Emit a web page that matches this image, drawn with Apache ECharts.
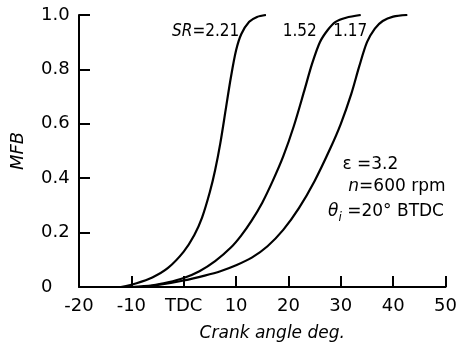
<!DOCTYPE html>
<html>
<head>
<meta charset="utf-8">
<script src="https://cdn.jsdelivr.net/npm/echarts@6/dist/echarts.min.js"></script>
<style>
    html, body { margin: 0; padding: 0; background: #fff; }
    #chart { width: 460px; height: 348px; }
</style>
</head>
<body>
<div id="chart"></div>
<script>
// mass fraction burned vs crank angle, one curve per swirl ratio
var sr221 = [[-12, 0], [-9, 0.014], [-6, 0.035], [-3, 0.07], [0, 0.13], [2, 0.19], [3.5, 0.255],
    [5, 0.35], [6, 0.43], [7, 0.53], [8, 0.65], [9, 0.77], [10, 0.87], [11, 0.93],
    [12.5, 0.975], [14, 0.993], [15.7, 1.0]];
var sr152 = [[-10, 0], [-6, 0.006], [-3, 0.017], [0, 0.033], [3, 0.058], [6, 0.095], [9, 0.145],
    [11, 0.19], [13, 0.245], [15, 0.31], [17, 0.39], [19, 0.48], [21, 0.59], [23, 0.72],
    [24.5, 0.82], [26, 0.9], [27.5, 0.945], [29, 0.975], [31, 0.99], [33.8, 1.0]];
var sr117 = [[-8, 0], [-4, 0.01], [0, 0.024], [4, 0.042], [7, 0.058], [10, 0.08], [13, 0.108],
    [16, 0.15], [19, 0.21], [22, 0.29], [25, 0.39], [28, 0.51], [30, 0.6], [32, 0.71],
    [33.5, 0.81], [35, 0.9], [36.5, 0.95], [38, 0.978], [40, 0.994], [42.7, 1.0]];

var xTicks = {'-20': '-20', '-10': '-10', '0': 'TDC', '10': '10', '20': '20', '30': '30', '40': '40', '50': '50'};

// text positions in data units
var curveLabels = [
    {text: '{i|SR}=2.21', at: [10.6, 0.94], align: 'right'},
    {text: '1.52', at: [25.4, 0.94], align: 'right'},
    {text: '1.17', at: [31.8, 0.94], align: 'center'}
];
var notes = [
    {text: 'ε =3.2', at: [30.3, 0.45], align: 'left'},
    {text: '{i|n}=600 rpm', at: [50, 0.37], align: 'right'},
    {text: '{i|θ}{sub|i} =20° BTDC', at: [49.7, 0.277], align: 'right'}
];

var FONT = 'DejaVu Sans';
var FONT_NARROW = 'DejaVu Sans Condensed';
var myChart = echarts.init(document.getElementById('chart'));

function lineSeries(data) {
    return {
        type: 'line',
        data: data,
        smooth: 0.3,
        showSymbol: false,
        silent: true,
        lineStyle: {color: '#000', width: 2.2}
    };
}

var option = {
    animation: false,
    backgroundColor: '#fff',
    grid: {left: 79, right: 13, top: 15, bottom: 61},
    xAxis: {
        type: 'value',
        min: -20,
        max: 50,
        interval: 10,
        name: 'Crank angle deg.',
        nameLocation: 'middle',
        nameGap: 38,
        nameTextStyle: {color: '#000', fontFamily: FONT, fontSize: 17, fontStyle: 'italic', padding: [0, 0, 0, 20]},
        axisLine: {onZero: false, lineStyle: {color: '#000', width: 2}},
        axisTick: {inside: true, length: 11, lineStyle: {color: '#000', width: 2}},
        axisLabel: {
            color: '#000', fontFamily: FONT, fontSize: 18, margin: 10,
            formatter: function (v) { return xTicks[String(v)]; }
        },
        splitLine: {show: false}
    },
    yAxis: {
        type: 'value',
        min: 0,
        max: 1,
        interval: 0.2,
        name: 'MFB',
        nameLocation: 'middle',
        nameGap: 52,
        nameTextStyle: {color: '#000', fontFamily: FONT, fontSize: 18, fontStyle: 'italic'},
        axisLine: {onZero: false, lineStyle: {color: '#000', width: 2}},
        axisTick: {inside: true, length: 11, lineStyle: {color: '#000', width: 2}},
        axisLabel: {
            color: '#000', fontFamily: FONT, fontSize: 18, align: 'left', margin: 38,
            formatter: function (v) { return v === 0 ? '0' : v.toFixed(1); }
        },
        splitLine: {show: false}
    },
    series: [lineSeries(sr221), lineSeries(sr152), lineSeries(sr117)]
};

myChart.setOption(option);

// put the texts where the data coordinates land
function richFor(family, size) {
    return {
        i: {fontFamily: family, fontSize: size, fontStyle: 'italic', fill: '#000'},
        sub: {fontFamily: family, fontSize: 12, fontStyle: 'italic', fill: '#000', verticalAlign: 'bottom', padding: [12, 0, 0, 0]}
    };
}
var elements = [];
function addText(t, family, size) {
    var p = myChart.convertToPixel({gridIndex: 0}, t.at);
    elements.push({
        type: 'text',
        x: p[0],
        y: p[1],
        style: {
            text: t.text,
            fill: '#000',
            fontFamily: family,
            fontSize: size,
            align: t.align,
            verticalAlign: 'middle',
            rich: richFor(family, size)
        }
    });
}
curveLabels.forEach(function (t) { addText(t, FONT_NARROW, 17); });
notes.forEach(function (t) { addText(t, FONT, 17); });
myChart.setOption({graphic: elements});
</script>
</body>
</html>
